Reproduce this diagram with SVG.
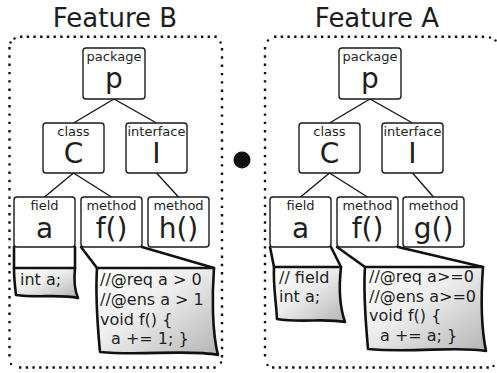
<svg xmlns="http://www.w3.org/2000/svg" width="497" height="373" viewBox="0 0 497 373">
<style>
text{font-family:"DejaVu Sans","Liberation Sans",sans-serif;fill:#1e1e1e}
.title{font-size:26px;text-anchor:middle}
.lbl{font-size:13px;text-anchor:middle}
.big{font-size:28px;text-anchor:middle}
.code{font-size:16px}
.node rect{fill:#fff;stroke:#1a1a1a;stroke-width:1.4}
.edge{stroke:#111;stroke-width:1.3;fill:none}
.call{stroke:#111;stroke-width:2.6;fill:none;stroke-linecap:round}
.note{fill:url(#paper);stroke:#111;stroke-width:2.6;stroke-linejoin:round}
.dh{fill:none;stroke:#111;stroke-width:2.4;stroke-dasharray:2.4 4.3}
.dv{fill:none;stroke:#111;stroke-width:2.4;stroke-dasharray:2.4 5.9}
</style>
<defs>
<linearGradient id="paper" x1="0" y1="0" x2="1" y2="1">
<stop offset="0" stop-color="#ffffff"/>
<stop offset="0.45" stop-color="#ececec"/>
<stop offset="1" stop-color="#b4b4b4"/>
</linearGradient>
</defs>

<g id="titles">
<text class="title" x="115" y="27">Feature B</text>
<text class="title" x="377" y="27">Feature A</text>
</g>

<g id="feature-b-border">
<path class="dh" d="M20,36.7 H217 M19,367.5 H216"/>
<path class="dv" d="M9.5,47 V360 M222,48 V360"/>
<circle cx="14.5" cy="38.5" r="1.2" fill="#111"/><circle cx="10.5" cy="42.5" r="1.2" fill="#111"/>
<circle cx="220.5" cy="42.5" r="1.2" fill="#111"/>
<circle cx="221" cy="362.5" r="1.2" fill="#111"/><circle cx="11" cy="364" r="1.2" fill="#111"/>
</g>
<g id="feature-a-border">
<path class="dh" d="M274,36.7 H488 M272,367.5 H490"/>
<path class="dv" d="M265,47 V360"/>
<circle cx="268" cy="40.5" r="1.2" fill="#111"/>
<circle cx="490" cy="37.5" r="1.2" fill="#111"/><circle cx="495.5" cy="40.5" r="1.2" fill="#111"/>
<circle cx="267.5" cy="365" r="1.2" fill="#111"/><circle cx="493.5" cy="366" r="1.2" fill="#111"/>
</g>

<g id="compose-dot">
<circle cx="242" cy="160" r="8.5" fill="#111"/>
</g>

<g id="connectors">
<line class="edge" x1="114" y1="99" x2="73.5" y2="123"/>
<line class="edge" x1="114" y1="99" x2="156.5" y2="123"/>
<line class="edge" x1="73.5" y1="173" x2="44.5" y2="197"/>
<line class="edge" x1="73.5" y1="173" x2="111.5" y2="197"/>
<line class="edge" x1="156.5" y1="173" x2="178.5" y2="197"/>
<line class="edge" x1="370" y1="99" x2="329.5" y2="123"/>
<line class="edge" x1="370" y1="99" x2="412.5" y2="123"/>
<line class="edge" x1="329.5" y1="173" x2="300.5" y2="197"/>
<line class="edge" x1="329.5" y1="173" x2="367.5" y2="197"/>
<line class="edge" x1="412.5" y1="173" x2="433.5" y2="197"/>
<line class="call" x1="14" y1="247" x2="14" y2="268"/>
<line class="call" x1="75" y1="247" x2="75" y2="268"/>
<line class="call" x1="81" y1="247" x2="97" y2="268"/>
<line class="call" x1="142" y1="247" x2="214" y2="268"/>
<line class="call" x1="270" y1="247" x2="274" y2="267"/>
<line class="call" x1="331" y1="247" x2="341" y2="267"/>
<line class="call" x1="337" y1="247" x2="365" y2="267"/>
<line class="call" x1="398" y1="247" x2="483" y2="267"/>
</g>

<g id="b-package-p" class="node"><rect x="83" y="48" width="62" height="51" rx="3"/><text class="lbl" x="114" y="61">package</text><text class="big" x="114" y="88">p</text></g>
<g id="b-class-C" class="node"><rect x="43" y="123" width="61" height="50" rx="3"/><text class="lbl" x="73.5" y="136">class</text><text class="big" x="73.5" y="163">C</text></g>
<g id="b-interface-I" class="node"><rect x="126" y="123" width="61" height="50" rx="3"/><text class="lbl" x="156.5" y="136">interface</text><text class="big" x="156.5" y="163">I</text></g>
<g id="b-field-a" class="node"><rect x="14" y="197" width="61" height="50" rx="3"/><text class="lbl" x="44.5" y="210">field</text><text class="big" x="44.5" y="238">a</text></g>
<g id="b-method-f" class="node"><rect x="81" y="197" width="61" height="50" rx="3"/><text class="lbl" x="111.5" y="210">method</text><text class="big" x="111.5" y="238">f()</text></g>
<g id="b-method-h" class="node"><rect x="148" y="197" width="61" height="50" rx="3"/><text class="lbl" x="178.5" y="210">method</text><text class="big" x="178.5" y="238">h()</text></g>

<g id="a-package-p" class="node"><rect x="339" y="48" width="62" height="51" rx="3"/><text class="lbl" x="370" y="61">package</text><text class="big" x="370" y="88">p</text></g>
<g id="a-class-C" class="node"><rect x="299" y="123" width="61" height="50" rx="3"/><text class="lbl" x="329.5" y="136">class</text><text class="big" x="329.5" y="163">C</text></g>
<g id="a-interface-I" class="node"><rect x="382" y="123" width="61" height="50" rx="3"/><text class="lbl" x="412.5" y="136">interface</text><text class="big" x="412.5" y="163">I</text></g>
<g id="a-field-a" class="node"><rect x="270" y="197" width="61" height="50" rx="3"/><text class="lbl" x="300.5" y="210">field</text><text class="big" x="300.5" y="238">a</text></g>
<g id="a-method-f" class="node"><rect x="337" y="197" width="61" height="50" rx="3"/><text class="lbl" x="367.5" y="210">method</text><text class="big" x="367.5" y="238">f()</text></g>
<g id="a-method-g" class="node"><rect x="403" y="197" width="61" height="50" rx="3"/><text class="lbl" x="433.5" y="210">method</text><text class="big" x="433.5" y="238">g()</text></g>

<g id="b-note-field">
<path class="note" d="M14,268 L75,268 C74,278 74,289 78,298 C62,294 36,298 16,295 C15,287 14,278 14,268 Z"/>
<text class="code" x="20" y="285">int a;</text>
</g>
<g id="b-note-method">
<path class="note" d="M97,268 L214,268 C212,295 212,332 218,355 C190,349 140,356 100,352 C98,330 95,300 97,268 Z"/>
<text class="code" x="100" y="285">//@req a &gt; 0</text>
<text class="code" x="100" y="305">//@ens a &gt; 1</text>
<text class="code" x="100" y="325">void f() {</text>
<text class="code" x="111" y="344">a += 1; }</text>
</g>
<g id="a-note-field">
<path class="note" d="M274,267 L341,267 C339,285 339,305 345,322 C325,318 300,323 277,319 C276,300 273,285 274,267 Z"/>
<text class="code" x="279" y="283">// field</text>
<text class="code" x="279" y="302">int a;</text>
</g>
<g id="a-note-method">
<path class="note" d="M365,267 L483,267 C481,295 481,327 486,351 C460,346 410,353 368,349 C366,325 363,295 365,267 Z"/>
<text class="code" x="369" y="282">//@req a&gt;=0</text>
<text class="code" x="369" y="302">//@ens a&gt;=0</text>
<text class="code" x="369" y="321">void f() {</text>
<text class="code" x="380" y="341">a += a; }</text>
</g>
</svg>
